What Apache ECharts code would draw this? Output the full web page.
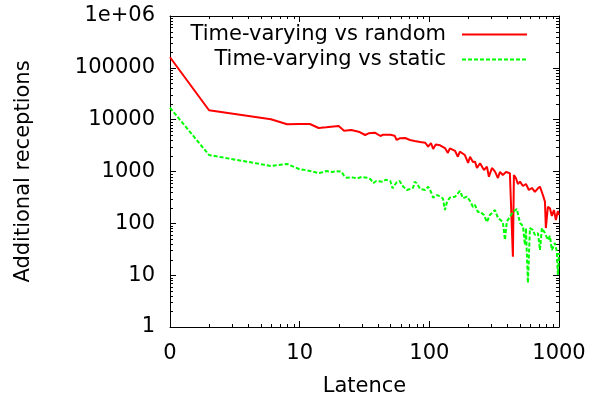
<!DOCTYPE html>
<html>
<head>
<meta charset="utf-8">
<script src="https://cdn.jsdelivr.net/npm/echarts@6/dist/echarts.min.js"></script>
<style>
  html, body { margin: 0; padding: 0; background: #fff; }
  #latence_chart { width: 592px; height: 402px; }
</style>
</head>
<body>
<div id="latence_chart"></div>
<script>
  // values (latence is shifted by one: position 1 is labelled "0")
  let randomLatence = [1, 2, 6, 8, 10, 12, 14, 16, 20, 22, 25, 29, 32, 34, 38, 42, 44, 50, 54, 56,
    59, 65, 71, 77, 85, 93, 98, 103, 107, 112, 121, 132, 139, 144, 158, 166, 172, 188, 199, 206,
    217, 225, 233, 246, 264, 278, 288, 304, 321, 338, 350, 369, 390, 418, 433, 441, 449, 465, 482, 500,
    527, 556, 586, 618, 652, 688, 713, 751, 779, 792, 821, 851, 881, 914, 946, 980, 1000]
  let randomValues = [160000, 15200, 10200, 8150, 8260, 8260, 6910, 7130, 7550, 6130, 6320, 5780, 5060, 5460, 5610, 4840, 5130, 5130, 4910, 4060,
    4370, 4430, 4060, 3880, 3710, 3590, 3010, 3550, 2720, 3320, 3200, 2840, 2280, 2800, 2490, 1930, 2410, 2080, 1460, 1930,
    1530, 1550, 1170, 1440, 1070, 1240, 794, 1170, 991, 750, 979, 857, 979, 923, 979, 22.7, 857, 750, 574, 636,
    525, 574, 440, 481, 403, 474, 510, 352, 262, 81, 209, 195, 139, 181, 116, 173, 145]
  let staticLatence = [1, 2, 6, 8, 10, 11, 12, 14, 15, 16, 18, 19, 21, 22, 23, 25, 28, 30, 33, 35,
    37, 39, 44, 46, 50, 52, 56, 59, 63, 67, 71, 75, 77, 80, 85, 93, 98, 103, 107, 115,
    127, 132, 137, 144, 158, 172, 182, 195, 206, 217, 225, 237, 246, 264, 278, 293, 309, 321, 338, 350,
    369, 383, 396, 418, 441, 473, 500, 527, 546, 556, 576, 597, 629, 652, 688, 713, 738, 779, 821, 851,
    881, 930, 963, 980, 1000]
  let staticValues = [17000, 2080, 1280, 1400, 1100, 1070, 1020, 936, 965, 1020, 978, 1020, 992, 830, 760, 773, 740, 784, 760, 717,
    600, 656, 636, 695, 656, 474, 619, 656, 509, 440, 460, 487, 636, 593, 460, 440, 509, 403, 313, 352,
    304, 181, 262, 313, 327, 421, 304, 327, 270, 207, 226, 165, 168, 145, 106, 145, 165, 181, 127, 134,
    106, 47.7, 108, 134, 165, 189, 102, 88.9, 38.2, 81, 7.06, 81, 74.4, 59.6, 65.1, 30.6, 81, 65.1, 47.7, 57,
    30.6, 41.8, 28.4, 10.1, 26.8]
  let xTickLabels = {1: '0', 10: '10', 100: '100', 1000: '1000'}
  let yTickLabels = {1: '1', 10: '10', 100: '100', 1000: '1000', 10000: '10000', 100000: '100000', 1000000: '1e+06'}
  let seriesNames = ['Time-varying vs random', 'Time-varying vs static']

  // gnuplot style minor ticks at 2..9 of every decade
  let minorTicks = []
  ;[1, 10, 100].forEach(d => { for (let k = 2; k < 10; k++) minorTicks.push([k * d, 1, 0]) })
  ;[1, 10, 100, 1000, 10000, 100000].forEach(d => { for (let k = 2; k < 10; k++) minorTicks.push([1, k * d, 1]) })

  let font = 'DejaVu Sans'
  let zip = (xs, ys) => xs.map((x, i) => [x, ys[i]])

  let myChart = echarts.init(document.getElementById('latence_chart'))
  let axisBase = {
    type: 'log',
    logBase: 10,
    axisLine: { lineStyle: { color: '#000', width: 1 } },
    axisTick: { inside: true, length: 6, lineStyle: { color: '#000' } },
    splitLine: { show: false },
    minorTick: { show: false }
  }
  let option = {
    animation: false,
    backgroundColor: '#fff',
    grid: { left: 170, right: 33, top: 16, bottom: 75, containLabel: false },
    legend: [0, 1].map(i => ({
      data: [seriesNames[i]],
      right: 64,
      top: 24 + i * 25,
      align: 'right',
      orient: 'vertical',
      padding: 0,
      itemWidth: 65,
      itemHeight: 20,
      selectedMode: false,
      // hide the marker, keep only the line sample
      itemStyle: { color: 'rgba(0,0,0,0)', borderColor: 'rgba(0,0,0,0)', borderWidth: 0, opacity: 0 },
      textStyle: { fontFamily: font, fontSize: 21, color: '#000', padding: [0, 11, 0, 0] }
    })),
    xAxis: [
      Object.assign({}, axisBase, {
        min: 1, max: 1000, splitNumber: 3,
        name: 'Latence', nameLocation: 'middle', nameGap: 49,
        nameTextStyle: { fontFamily: font, fontSize: 21, color: '#000' },
        axisLabel: { fontFamily: font, fontSize: 21, color: '#000', margin: 16, formatter: v => xTickLabels[v] || '' }
      }),
      Object.assign({}, axisBase, {
        min: 1, max: 1000, splitNumber: 3, position: 'top',
        axisLabel: { show: false }
      })
    ],
    yAxis: [
      Object.assign({}, axisBase, {
        min: 1, max: 1000000, splitNumber: 6,
        name: 'Additional receptions', nameLocation: 'middle', nameGap: 136,
        nameTextStyle: { fontFamily: font, fontSize: 21, color: '#000' },
        axisLabel: { fontFamily: font, fontSize: 21, color: '#000', margin: 15, formatter: v => yTickLabels[v] || '' }
      }),
      Object.assign({}, axisBase, {
        min: 1, max: 1000000, splitNumber: 6, position: 'right',
        axisLabel: { show: false }
      })
    ],
    series: [
      {
        name: seriesNames[0],
        type: 'line',
        data: zip(randomLatence, randomValues),
        symbol: 'none',
        z: 3,
        itemStyle: { color: '#ff0000' },
        lineStyle: { color: '#ff0000', width: 2 }
      },
      {
        name: seriesNames[1],
        type: 'line',
        data: zip(staticLatence, staticValues),
        symbol: 'none',
        z: 4,
        itemStyle: { color: '#00ff00' },
        lineStyle: { color: '#00ff00', width: 2, type: [4, 2] }
      },
      {
        type: 'custom',
        data: minorTicks,
        silent: true,
        clip: false,
        renderItem: (params, api) => {
          let cs = params.coordSys
          let p = api.coord([api.value(0), api.value(1)])
          let style = { stroke: '#000', lineWidth: 1 }
          if (api.value(2) === 0) {
            let x = Math.round(p[0]) + 0.5
            return { type: 'group', children: [
              { type: 'line', shape: { x1: x, y1: cs.y + cs.height, x2: x, y2: cs.y + cs.height - 3 }, style: style },
              { type: 'line', shape: { x1: x, y1: cs.y, x2: x, y2: cs.y + 3 }, style: style }
            ] }
          }
          let y = Math.round(p[1]) + 0.5
          return { type: 'group', children: [
            { type: 'line', shape: { x1: cs.x, y1: y, x2: cs.x + 3, y2: y }, style: style },
            { type: 'line', shape: { x1: cs.x + cs.width, y1: y, x2: cs.x + cs.width - 3, y2: y }, style: style }
          ] }
        }
      }
    ]
  }
  myChart.setOption(option)
</script>
</body>
</html>
